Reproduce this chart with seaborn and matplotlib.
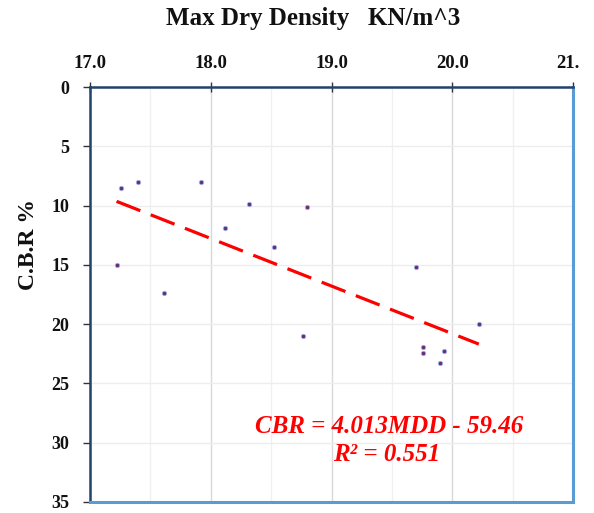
import numpy as np
import pandas as pd
import matplotlib
matplotlib.use("Agg")
import matplotlib.pyplot as plt
import seaborn as sns
from matplotlib.ticker import MultipleLocator, FormatStrFormatter
from matplotlib.transforms import Bbox, TransformedBbox, IdentityTransform

# ---- data ----
mdd = [17.26, 17.40, 17.92, 17.22, 17.61, 18.12, 18.32, 18.52, 18.80, 18.76,
       19.70, 19.76, 19.76, 19.93, 19.90, 20.22]
cbr = [8.5, 8.0, 8.0, 15.0, 17.4, 11.9, 9.9, 13.5, 10.1, 21.0,
       15.2, 21.9, 22.4, 22.3, 23.3, 20.0]
slope = 4.013
intercept = -59.46
r_squared = 0.551
x_ticks = [17.0, 18.0, 19.0, 20.0, 21.0]
y_ticks = [0, 5, 10, 15, 20, 25, 30, 35]
title_text = "Max Dry Density   KN/m^3"
ylabel_text = "C.B.R %"

df = pd.DataFrame({"MDD": mdd, "CBR": cbr})
trend_x = [min(mdd), max(mdd)]
trend = pd.DataFrame({"MDD": trend_x, "CBR": [slope * v + intercept for v in trend_x]})

sns.set_theme(style="white")
plt.rcParams["font.family"] = ["Liberation Serif", "DejaVu Serif"]
plt.rcParams["font.weight"] = "bold"

W, H = 594, 513
top_px, bot_px = 87, 502
fig = plt.figure(figsize=(W / 100, H / 100), dpi=100)
ax = fig.add_axes([90 / W, 1 - bot_px / H, (573 - 90) / W, (bot_px - top_px) / H])

# grid
ax.set_axisbelow(True)
ax.xaxis.set_minor_locator(MultipleLocator(0.5))
ax.grid(which="major", axis="x", color="#D9D9D9", lw=1.0)
ax.grid(which="minor", axis="x", color="#F0F0F0", lw=1.0)
ax.grid(which="major", axis="y", color="#EDEDED", lw=1.0)

sns.lineplot(data=trend, x="MDD", y="CBR", ax=ax, color="#FF0000", lw=2.3,
             dashes=False, zorder=3)
ax.lines[-1].set_dashes([8, 3.5])
ax.lines[-1].set_solid_capstyle("round")
sns.scatterplot(data=df, x="MDD", y="CBR", ax=ax, s=10, color="#6A2C7A",
                edgecolor="#9DB3E0", linewidth=0.6, zorder=4)

ax.set_xlim(17.0, 21.0)
ax.set_ylim(35, 0)
ax.set_xticks(x_ticks)
ax.set_yticks(y_ticks)
ax.xaxis.set_major_formatter(FormatStrFormatter("%.1f"))
ax.xaxis.tick_top()
ax.tick_params(axis="x", which="major", direction="inout", length=7, width=1,
               color="#333333", pad=7, labelsize=13.5)
ax.tick_params(axis="x", which="minor", length=0)
ax.tick_params(axis="y", direction="out", length=5, width=1, color="#333333",
               pad=10, labelsize=13, left=True)
for lab in ax.get_xticklabels() + ax.get_yticklabels():
    lab.set_fontweight("bold")
    lab.set_color("#111111")
ax.set_xlabel("")
ax.set_ylabel("")

for side in ["top", "left"]:
    ax.spines[side].set_color("#22436B")
    ax.spines[side].set_linewidth(1.8)
for side in ["bottom", "right"]:
    ax.spines[side].set_color("#5B9BD5")
    ax.spines[side].set_linewidth(2.2)
    ax.spines[side].set_visible(True)

fig.text(313.5 / W, 1 - 19 / H, title_text, ha="center", va="center",
         fontsize=18, fontweight="bold", color="#111111")
fig.text(28 / W, 1 - 244 / H, ylabel_text, ha="center", va="center",
         rotation=90, fontsize=17, fontweight="bold", color="#111111")

ax.text(19.48, 28.65, f"CBR = {slope:.3f}MDD - {abs(intercept):.2f}",
        ha="center", va="center", fontsize=18, fontweight="bold",
        fontstyle="italic", color="#FF0000", zorder=5)
ax.text(19.46, 31.0, f"R² = {r_squared:.3f}", ha="center", va="center",
        fontsize=18, fontweight="bold", fontstyle="italic", color="#FF0000",
        zorder=5)

# the reference crops the right-most top label at the image edge
fig.canvas.draw()
clip = TransformedBbox(Bbox([[0, 0], [578.5, H]]), IdentityTransform())
for lab in ax.get_xticklabels():
    lab.set_clip_on(True)
    lab.set_clip_box(clip)

fig.savefig("out.png", dpi=100)
